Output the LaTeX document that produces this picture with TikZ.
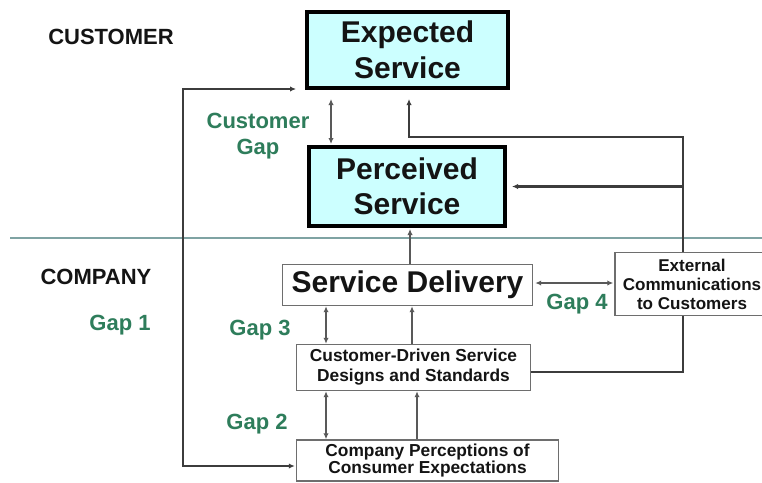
\documentclass[tikz,border=0pt]{standalone}
\usepackage{fontspec}
\setmainfont{Liberation Sans}
\usepackage{xcolor}
\usetikzlibrary{calc,arrows.meta}
\definecolor{ink}{HTML}{141414}
\definecolor{wire}{HTML}{3C3C3C}
\definecolor{frame}{HTML}{6E6E6E}
\definecolor{sky}{HTML}{CCFFFF}
\definecolor{gapgreen}{HTML}{2E7D5B}
\definecolor{rule}{HTML}{7FA3A3}
\newcommand{\px}{0.75pt}
\newcommand{\GapLabel}[3]{%
  \node[gaptext] (#1) at (#2) {#3};
}
\tikzset{
  custbox/.style={draw=black, line width=3pt, fill=sky, text=ink, align=center,
    inner sep=0pt, font=\fontsize{22.5}{27}\selectfont\bfseries},
  compbox/.style={draw=frame, line width=1.1pt, fill=white, text=ink, align=center,
    inner sep=0pt, font=\fontsize{13}{14.5}\selectfont\bfseries},
  gaptext/.style={text=gapgreen, align=center, font=\fontsize{16.5}{20}\selectfont\bfseries},
  sidetext/.style={text=ink, font=\fontsize{16.5}{20}\selectfont\bfseries},
  tip/.tip={Latex[length=4.5pt,width=4pt]},
  gapline/.style={draw=wire!85, line width=1pt, tip-tip},
  flowline/.style={draw=wire!85, line width=1pt, -tip},
  loopline/.style={draw=wire, line width=2pt},
}

\begin{document}
\begin{tikzpicture}[x=0.75pt,y=-0.75pt]
  \path[use as bounding box, clip] (0,0) rectangle (762,482);
  \fill[white] (0,0) rectangle (762,482);

  % customer side / company side
  \coordinate (sepL) at (10,238);
  \coordinate (sepR) at (762,238);
  \draw[rule, line width=1pt] (sepL) -- (sepR);
  \node[sidetext] (cust) at (111,37) {CUSTOMER};
  \node[sidetext] (comp) at (96,277) {COMPANY};

  % boxes
  \node[custbox, minimum width=201*\px, minimum height=76*\px] (exp) at (407.5,50) {Expected\\Service};
  \node[custbox, minimum width=196*\px, minimum height=79*\px, font=\fontsize{22.5}{26}\selectfont\bfseries] (per) at (407,186.5) {Perceived\\Service};
  \node[compbox, minimum width=250*\px, minimum height=41*\px, font=\fontsize{22.5}{24}\selectfont\bfseries] (sd) at (407.5,285) {Service Delivery};
  \node[compbox, minimum width=154*\px, minimum height=63*\px, font=\fontsize{12.8}{14.3}\selectfont\bfseries] (ext) at (692,284) {External\\Communications\\to Customers};
  \node[compbox, minimum width=234*\px, minimum height=46*\px, font=\fontsize{13}{15}\selectfont\bfseries] (cd) at (413.5,367.5) {Customer-Driven Service\\Designs and Standards};
  \node[compbox, minimum width=262*\px, minimum height=41*\px, font=\fontsize{13}{13}\selectfont\bfseries] (cp) at (427.5,460.5) {Company Perceptions of\\Consumer Expectations};

  % gap labels
  \GapLabel{cgap}{258,136}{Customer\\Gap}
  \GapLabel{gap1}{120,325}{Gap 1}
  \GapLabel{gap2}{257,424}{Gap 2}
  \GapLabel{gap3}{260,330}{Gap 3}
  \GapLabel{gap4}{577,304}{Gap 4}

  \coordinate (cgx) at (331,0);
  \coordinate (expx) at (409,0);
  \coordinate (feedx) at (683,0);
  \coordinate (topy) at (0,137);
  \coordinate (loopx) at (183,0);
  \coordinate (g3x) at (326,0);
  \coordinate (up3x) at (412,0);
  \coordinate (up2x) at (417,0);

  % customer gap
  \draw[gapline] ($(exp.south -| cgx)+(0,9)$) -- ($(per.north -| cgx)+(0,-1)$);

  % communications feeding expectations and perceptions
  \draw[loopline, -tip] (ext.north -| feedx) |- (expx |- topy) -- ($(exp.south -| expx)+(0,9)$);
  \draw[loopline, -tip] (feedx |- per.east) -- ($(per.east)+(5,0)$);
  \draw[loopline] ($(cd.east)+(0,4.5)$) -| (ext.south -| feedx);

  % gap 1 loop
  \coordinate (loopTop) at ($(exp.south west)+(-9,-1)$);
  \coordinate (loopBot) at ($(cp.west)+(-1,5.5)$);
  \draw[loopline, tip-tip] (loopTop) -- (loopTop -| loopx) -- (loopBot -| loopx) -- (loopBot);

  % company side
  \draw[flowline] ($(sd.north)+(2.5,0)$) -- ($(per.south)+(3,1)$);
  \draw[gapline] ($(sd.east)+(2,-2)$) -- ($(ext.west)+(-1,-1)$);
  \draw[gapline] (sd.south -| g3x) -- (cd.north -| g3x);
  \draw[flowline] (cd.north -| up3x) -- (sd.south -| up3x);
  \draw[gapline] (cd.south -| g3x) -- (cp.north -| g3x);
  \draw[flowline] (cp.north -| up2x) -- (cd.south -| up2x);
\end{tikzpicture}
\end{document}
